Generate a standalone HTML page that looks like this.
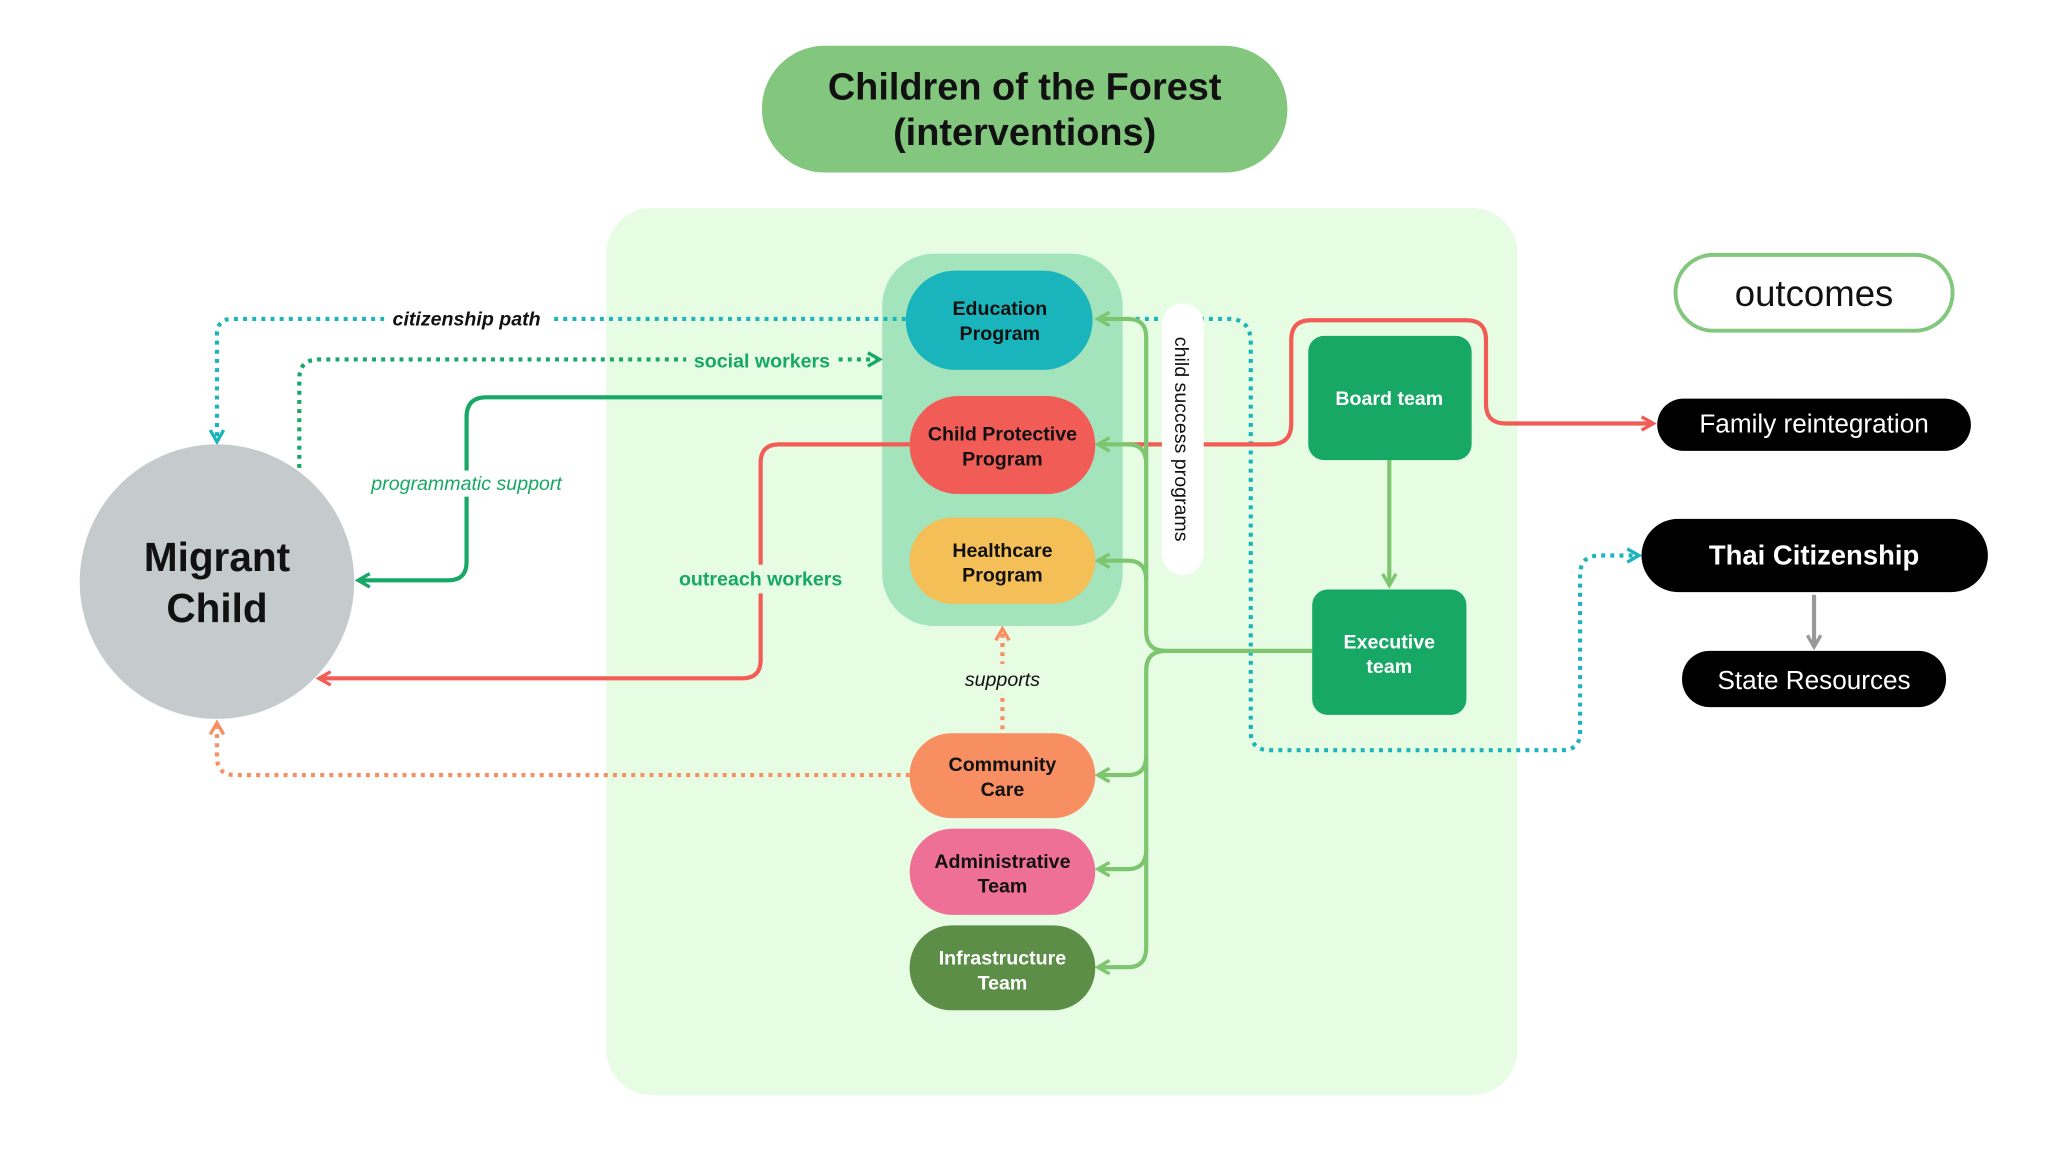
<!DOCTYPE html>
<html><head><meta charset="utf-8"><style>
html,body{margin:0;padding:0;background:#fff;}
svg{display:block;}
text{font-family:"Liberation Sans",sans-serif;}
</style></head><body>
<svg width="2048" height="1152" viewBox="0 0 1567 881.4" xmlns="http://www.w3.org/2000/svg">
<defs>
<marker id="ag" viewBox="0 0 10 10" refX="8" refY="5" markerWidth="4" markerHeight="4" orient="auto-start-reverse"><path d="M1,1 L8,5 L1,9" fill="none" stroke="#7dc56e" stroke-width="2"/></marker>
<marker id="adg" viewBox="0 0 10 10" refX="8" refY="5" markerWidth="4" markerHeight="4" orient="auto"><path d="M1,1 L8,5 L1,9" fill="none" stroke="#17a866" stroke-width="2"/></marker>
<marker id="ar" viewBox="0 0 10 10" refX="8" refY="5" markerWidth="4" markerHeight="4" orient="auto"><path d="M1,1 L8,5 L1,9" fill="none" stroke="#f25c56" stroke-width="2"/></marker>
<marker id="at" viewBox="0 0 10 10" refX="8" refY="5" markerWidth="4" markerHeight="4" orient="auto"><path d="M1,1 L8,5 L1,9" fill="none" stroke="#1ab5bc" stroke-width="2"/></marker>
<marker id="ao" viewBox="0 0 10 10" refX="8" refY="5" markerWidth="4" markerHeight="4" orient="auto"><path d="M1,1 L8,5 L1,9" fill="none" stroke="#f78f62" stroke-width="2"/></marker>
<marker id="agr" viewBox="0 0 10 10" refX="8" refY="5" markerWidth="4" markerHeight="4" orient="auto"><path d="M1,1 L8,5 L1,9" fill="none" stroke="#999" stroke-width="2"/></marker>
</defs>

<rect x="583" y="35" width="402" height="97" rx="48" fill="#82c77d"/>
<text x="784" y="76" text-anchor="middle" font-size="29" font-weight="bold" fill="#111">Children of the Forest</text>
<text x="784" y="111" text-anchor="middle" font-size="29" font-weight="bold" fill="#111">(interventions)</text>

<rect x="464" y="159" width="697" height="679" rx="35" fill="#e6fde4"/>
<rect x="675" y="194" width="184" height="285" rx="40" fill="#a3e4bd"/>

<g fill="none" stroke-width="3.2">
<path d="M693,244 H178 Q166,244 166,256 V338" stroke="#1ab5bc" stroke-dasharray="3,4" marker-end="url(#at)"/>
<path d="M862,244 H940 Q957,244 957,262 V560 Q957,574 972,574 H1195 Q1209,574 1209,560 V440 Q1209,425 1224,425 H1254" stroke="#1ab5bc" stroke-dasharray="3,4" marker-end="url(#at)"/>
<path d="M229,358 V290 Q229,275 244,275 H673" stroke="#17a866" stroke-dasharray="3,4" marker-end="url(#adg)"/>
<path d="M675,304 H372 Q357,304 357,319 V430 Q357,444 343,444 H274" stroke="#17a866" marker-end="url(#adg)"/>
<path d="M696,340 H596 Q582,340 582,354 V505 Q582,519 568,519 H244" stroke="#f25c56" marker-end="url(#ar)"/>
<path d="M767,558 V481" stroke="#f78f62" stroke-dasharray="3,4" marker-end="url(#ao)"/>
<path d="M696,593 H180 Q166,593 166,579 V553" stroke="#f78f62" stroke-dasharray="3,4" marker-end="url(#ao)"/>
<path d="M860,340 H972 Q988,340 988,324 V260 Q988,245 1003,245 H1122 Q1137,245 1137,260 V309 Q1137,324 1152,324 H1265" stroke="#f25c56" marker-end="url(#ar)"/>
<path d="M1004,498 H892 Q877,498 877,483 V258 Q877,244 863,244 H840" stroke="#7dc56e" marker-end="url(#ag)"/>
<path d="M877,355 Q877,340 863,340 H840" stroke="#7dc56e" marker-end="url(#ag)"/>
<path d="M877,444 Q877,429 863,429 H840" stroke="#7dc56e" marker-end="url(#ag)"/>
<path d="M892,498 Q877,498 877,513 V725 Q877,740 863,740 H840" stroke="#7dc56e" marker-end="url(#ag)"/>
<path d="M877,578 Q877,593 863,593 H840" stroke="#7dc56e" marker-end="url(#ag)"/>
<path d="M877,650 Q877,665 863,665 H840" stroke="#7dc56e" marker-end="url(#ag)"/>
<path d="M1063,352 V448" stroke="#7dc56e" marker-end="url(#ag)"/>
<path d="M1388,455 V495" stroke="#999" marker-end="url(#agr)"/>
</g>

<rect x="294" y="234" width="126" height="20" fill="#fff"/>
<text x="357" y="249" text-anchor="middle" font-size="15" font-style="italic" font-weight="bold" fill="#111">citizenship path</text>
<rect x="525" y="265" width="116" height="20" fill="#e6fde4"/>
<text x="583" y="281" text-anchor="middle" font-size="15" font-weight="bold" fill="#17a866">social workers</text>
<rect x="274" y="360" width="166" height="20" fill="#fff"/>
<text x="357" y="375" text-anchor="middle" font-size="15" font-style="italic" fill="#17a866">programmatic support</text>
<rect x="515" y="432" width="134" height="22" fill="#e6fde4"/>
<text x="582" y="448" text-anchor="middle" font-size="15" font-weight="bold" fill="#17a866">outreach workers</text>
<rect x="730" y="508" width="74" height="22" fill="#e6fde4"/>
<text x="767" y="525" text-anchor="middle" font-size="15" font-style="italic" fill="#111">supports</text>

<rect x="889" y="232" width="32" height="208" rx="16" fill="#fff"/>
<text transform="translate(899,336) rotate(90)" text-anchor="middle" font-size="15" fill="#111">child success programs</text>

<g font-size="15" font-weight="bold" text-anchor="middle">
<rect x="693" y="207" width="143" height="76" rx="38" fill="#1ab5bc"/>
<text x="765" y="241" fill="#111">Education</text><text x="765" y="260" fill="#111">Program</text>
<rect x="696" y="303" width="142" height="75" rx="37" fill="#f25c56"/>
<text x="767" y="337" fill="#111">Child Protective</text><text x="767" y="356" fill="#111">Program</text>
<rect x="696" y="396" width="142" height="66" rx="33" fill="#f5bf57"/>
<text x="767" y="426" fill="#111">Healthcare</text><text x="767" y="445" fill="#111">Program</text>
<rect x="696" y="561" width="142" height="65" rx="32" fill="#f78f62"/>
<text x="767" y="590" fill="#111">Community</text><text x="767" y="609" fill="#111">Care</text>
<rect x="696" y="634" width="142" height="66" rx="33" fill="#ee7096"/>
<text x="767" y="664" fill="#111">Administrative</text><text x="767" y="683" fill="#111">Team</text>
<rect x="696" y="708" width="142" height="65" rx="32" fill="#5c8e48"/>
<text x="767" y="738" fill="#fff">Infrastructure</text><text x="767" y="757" fill="#fff">Team</text>
<rect x="1001" y="257" width="125" height="95" rx="12" fill="#17a866"/>
<text x="1063" y="310" fill="#fff">Board team</text>
<rect x="1004" y="451" width="118" height="96" rx="12" fill="#17a866"/>
<text x="1063" y="496" fill="#fff">Executive</text><text x="1063" y="515" fill="#fff">team</text>
</g>

<circle cx="166" cy="445" r="105" fill="#c5cacc"/>
<text x="166" y="437" text-anchor="middle" font-size="31" font-weight="bold" fill="#111">Migrant</text>
<text x="166" y="476" text-anchor="middle" font-size="31" font-weight="bold" fill="#111">Child</text>

<rect x="1282" y="195" width="212" height="58" rx="29" fill="#fff" stroke="#82c77d" stroke-width="3"/>
<text x="1388" y="234" text-anchor="middle" font-size="28" fill="#111">outcomes</text>
<rect x="1268" y="305" width="240" height="40" rx="20" fill="#000"/>
<text x="1388" y="331" text-anchor="middle" font-size="20" fill="#fff">Family reintegration</text>
<rect x="1256" y="397" width="265" height="56" rx="28" fill="#000"/>
<text x="1388" y="432" text-anchor="middle" font-size="21" font-weight="bold" fill="#fff">Thai Citizenship</text>
<rect x="1287" y="498" width="202" height="43" rx="21" fill="#000"/>
<text x="1388" y="527" text-anchor="middle" font-size="20" fill="#fff">State Resources</text>
</svg>
</body></html>
